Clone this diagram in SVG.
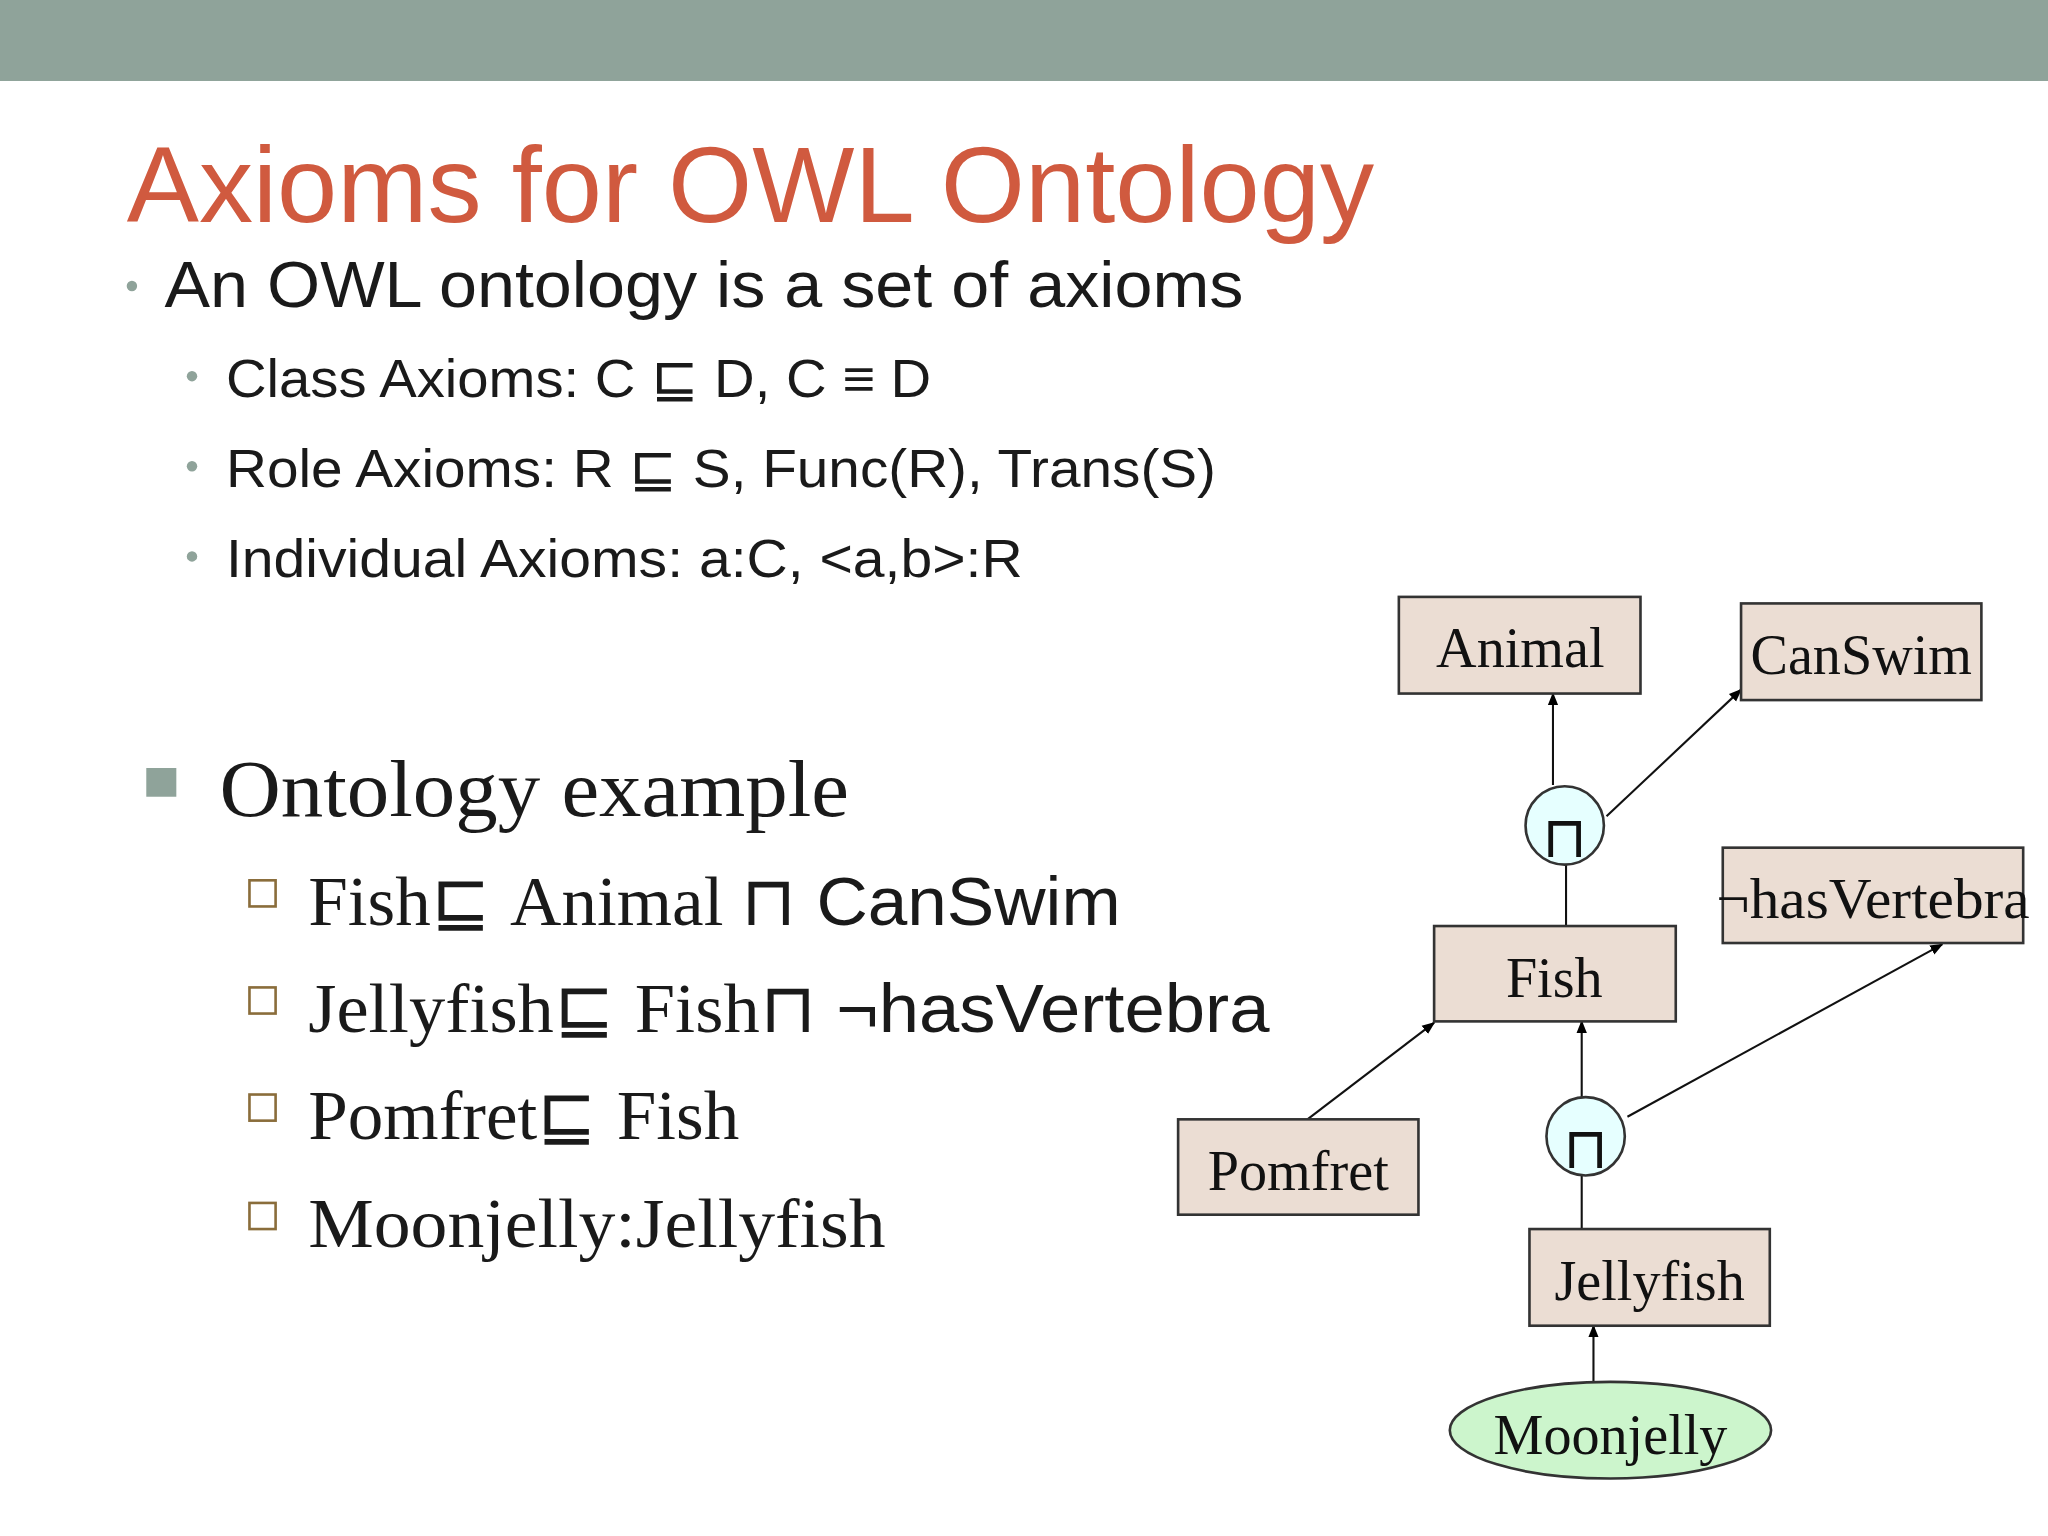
<svg xmlns="http://www.w3.org/2000/svg" width="2048" height="1536" viewBox="0 0 2048 1536">
<defs>
<marker id="ah" markerWidth="10" markerHeight="10" refX="9" refY="5" orient="auto" markerUnits="userSpaceOnUse"><path d="M0,1 L10,5 L0,9 z" fill="#000"/></marker>
<style>
.sans{font-family:"Liberation Sans",Arial,sans-serif;fill:#1a1a1a}
.ser{font-family:"Liberation Serif","Times New Roman",serif;fill:#1a1a1a}
.box{fill:#EBDDD3;stroke:#333;stroke-width:2}
.circ{fill:#E6FFFF;stroke:#333;stroke-width:2}
.lbl{font-family:"Liberation Serif","Times New Roman",serif;font-size:43px;text-anchor:middle;fill:#111}
.ln{stroke:#111;stroke-width:1.6;fill:none}
.chk{fill:#fff;stroke:#8a6d3b;stroke-width:2}
</style>
</defs>
<rect width="2048" height="1536" fill="#fff"/>
<g transform="scale(1.30612)">
<rect x="0" y="0" width="1568" height="62" fill="#8FA39A"/>
<text x="97" y="170" font-family="Liberation Sans,Arial,sans-serif" font-size="82" fill="#D05A3F" textLength="955" lengthAdjust="spacingAndGlyphs">Axioms for OWL Ontology</text>
<circle cx="101" cy="219" r="4" fill="#8FA39A"/>
<text x="126" y="235" class="sans" font-size="49" textLength="826" lengthAdjust="spacingAndGlyphs">An OWL ontology is a set of axioms</text>
<circle cx="147" cy="288" r="4" fill="#8FA39A"/>
<circle cx="147" cy="357" r="4" fill="#8FA39A"/>
<circle cx="147" cy="426" r="4" fill="#8FA39A"/>
<text x="173" y="304" class="sans" font-size="41" textLength="540" lengthAdjust="spacingAndGlyphs">Class Axioms: C ⊑ D, C ≡ D</text>
<text x="173" y="373" class="sans" font-size="41" textLength="758" lengthAdjust="spacingAndGlyphs">Role Axioms: R ⊑ S, Func(R), Trans(S)</text>
<text x="173" y="442" class="sans" font-size="41" textLength="610" lengthAdjust="spacingAndGlyphs">Individual Axioms: a:C, &lt;a,b&gt;:R</text>
<rect x="112" y="588" width="23" height="22" fill="#8FA39A"/>
<text x="168" y="625" class="ser" font-size="62" textLength="482" lengthAdjust="spacingAndGlyphs">Ontology example</text>
<rect x="191" y="674" width="20" height="20" class="chk"/>
<rect x="191" y="756" width="20" height="20" class="chk"/>
<rect x="191" y="838" width="20" height="20" class="chk"/>
<rect x="191" y="921" width="20" height="20" class="chk"/>
<text x="236" y="708" font-size="53" textLength="622" lengthAdjust="spacingAndGlyphs"><tspan class="ser">Fish</tspan><tspan class="sans">⊑ </tspan><tspan class="ser">Animal </tspan><tspan class="sans">⊓ CanSwim</tspan></text>
<text x="236" y="790" font-size="53" textLength="736" lengthAdjust="spacingAndGlyphs"><tspan class="ser">Jellyfish</tspan><tspan class="sans">⊑ </tspan><tspan class="ser">Fish</tspan><tspan class="sans">⊓ ¬hasVertebra</tspan></text>
<text x="236" y="872" font-size="53" textLength="330" lengthAdjust="spacingAndGlyphs"><tspan class="ser">Pomfret</tspan><tspan class="sans">⊑ </tspan><tspan class="ser">Fish</tspan></text>
<text x="236" y="955" font-size="53" class="ser" textLength="442" lengthAdjust="spacingAndGlyphs">Moonjelly:Jellyfish</text>
<g id="connectors">
<line class="ln" x1="1189" y1="601" x2="1189" y2="531" marker-end="url(#ah)"/>
<line class="ln" x1="1230" y1="625" x2="1333" y2="528" marker-end="url(#ah)"/>
<line class="ln" x1="1199" y1="662" x2="1199" y2="709"/>
<line class="ln" x1="1001" y1="857" x2="1098" y2="783" marker-end="url(#ah)"/>
<line class="ln" x1="1211" y1="840" x2="1211" y2="782" marker-end="url(#ah)"/>
<line class="ln" x1="1246" y1="855" x2="1487" y2="723" marker-end="url(#ah)"/>
<line class="ln" x1="1211" y1="900" x2="1211" y2="941"/>
<line class="ln" x1="1220" y1="1058" x2="1220" y2="1015" marker-end="url(#ah)"/>
</g>
<g id="animal"><rect class="box" x="1071" y="457" width="185" height="74"/><text class="lbl" x="1164" y="511">Animal</text></g>
<g id="canswim"><rect class="box" x="1333" y="462" width="184" height="74"/><text class="lbl" x="1425" y="516">CanSwim</text></g>
<g id="hasvertebra"><rect class="box" x="1319" y="649" width="230" height="73"/><text class="lbl" x="1434" y="703" textLength="240" lengthAdjust="spacingAndGlyphs">¬hasVertebra</text></g>
<g id="fish"><rect class="box" x="1098" y="709" width="185" height="73"/><text class="lbl" x="1190" y="763">Fish</text></g>
<g id="pomfret"><rect class="box" x="902" y="857" width="184" height="73"/><text class="lbl" x="994" y="911">Pomfret</text></g>
<g id="jellyfish"><rect class="box" x="1171" y="941" width="184" height="74"/><text class="lbl" x="1263" y="995">Jellyfish</text></g>
<g id="moonjelly"><ellipse cx="1233" cy="1095" rx="123" ry="37" fill="#CCF5CC" stroke="#333" stroke-width="2"/><text class="lbl" x="1233" y="1113">Moonjelly</text></g>
<g id="and1"><circle class="circ" cx="1198" cy="632" r="30"/><text x="1198" y="656" font-family="DejaVu Sans,sans-serif" font-size="44" text-anchor="middle" fill="#111">⊓</text></g>
<g id="and2"><circle class="circ" cx="1214" cy="870" r="30"/><text x="1214" y="894" font-family="DejaVu Sans,sans-serif" font-size="44" text-anchor="middle" fill="#111">⊓</text></g>
</g>
</svg>
